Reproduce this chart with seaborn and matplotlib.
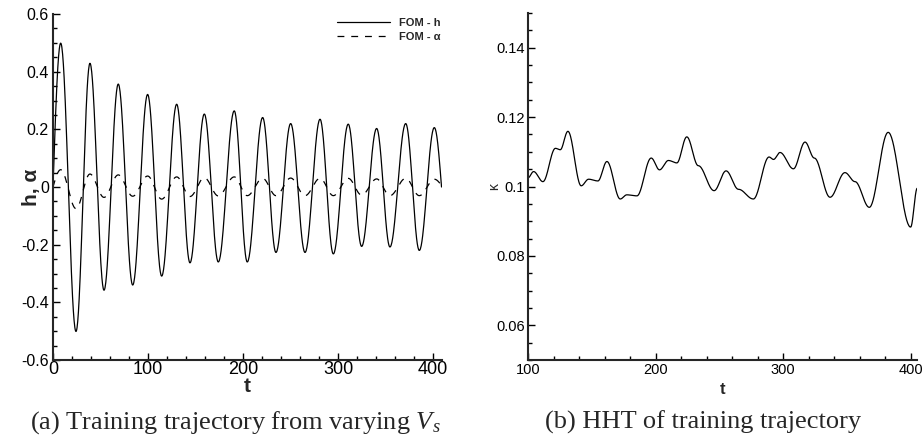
import numpy as np
import pandas as pd
import matplotlib
matplotlib.use("Agg")
import matplotlib.pyplot as plt
import seaborn as sns
from matplotlib.ticker import FixedLocator, MultipleLocator, FixedFormatter

# ---------------- data ----------------
# extremum times of the training trajectory (t), with h and alpha values there
ext_t = [0, 8.1, 24.2, 38.9, 53.7, 68.7, 83.9, 99.6, 114.4, 130.2, 144.2, 159.3,
         174.0, 190.8, 204.5, 220.7, 234.7, 250.2, 265.3, 281.1, 295.1, 310.8,
         324.9, 340.7, 354.7, 371.3, 385.6, 401.4, 409.0]
h_vals = [0.0, 0.499, -0.501, 0.429, -0.358, 0.357, -0.340, 0.321, -0.309, 0.287,
          -0.263, 0.253, -0.260, 0.264, -0.260, 0.241, -0.227, 0.220, -0.227, 0.235,
          -0.232, 0.218, -0.206, 0.203, -0.208, 0.220, -0.220, 0.206, 0.0]
alpha_vals = [0.0, 0.060, -0.075, 0.045, -0.036, 0.042, -0.032, 0.038, -0.042, 0.035,
              -0.033, 0.032, -0.031, 0.035, -0.030, 0.030, -0.030, 0.031, -0.030, 0.030,
              -0.030, 0.030, -0.028, 0.028, -0.030, 0.030, -0.030, 0.027, 0.005]

# HHT instantaneous frequency (kappa) key points
kappa_t = [100.0, 104.4, 111.7, 121.5, 125.3, 131.3, 141.7, 147.5, 154.8, 161.9,
           172.3, 177.5, 185.4, 196.6, 203.1, 210.1, 216.7, 224.5, 233.5, 245.9,
           255.3, 265.0, 276.7, 289.0, 292.5, 297.6, 308.1, 317.2, 324.5, 336.8,
           348.5, 356.4, 367.6, 382.4, 400.0, 405.2]
kappa_vals = [0.1025, 0.1043, 0.1014, 0.1110, 0.1106, 0.1159, 0.1002, 0.1021, 0.1016, 0.1072,
              0.0964, 0.0976, 0.0973, 0.1082, 0.1048, 0.1075, 0.1068, 0.1143, 0.1060, 0.0988,
              0.1045, 0.0992, 0.0964, 0.1085, 0.1078, 0.1098, 0.1051, 0.1128, 0.1082, 0.0969,
              0.1040, 0.1014, 0.0940, 0.1156, 0.0883, 0.0995]

left_xticks = [0, 100, 200, 300, 400]
left_yticks = [-0.6, -0.4, -0.2, 0.0, 0.2, 0.4, 0.6]
left_yticklabels = ['-0.6', '-0.4', '-0.2', '0', '0.2', '0.4', '0.6']
right_xticks = [100, 200, 300, 400]
right_yticks = [0.06, 0.08, 0.10, 0.12, 0.14]
right_yticklabels = ['0.06', '0.08', '0.1', '0.12', '0.14']

legend_labels = ['FOM - h', 'FOM - α']
caption_a = r'(a) Training trajectory from varying $V_s$'
caption_b = '(b) HHT of training trajectory'


def smooth_path(tk, vk, start_mid=False, end_mid=False, n=40):
    """Draw smooth half-wave segments between consecutive read key points."""
    ts, vs = [], []
    last = len(tk) - 2
    for i in range(len(tk) - 1):
        s = np.linspace(0, 1, n, endpoint=False)
        if i == 0 and start_mid:
            w = np.sin(np.pi * s / 2)
        elif i == last and end_mid:
            w = 1 - np.cos(np.pi * s / 2)
        else:
            w = (1 - np.cos(np.pi * s)) / 2
        ts.append(tk[i] + (tk[i + 1] - tk[i]) * s)
        vs.append(vk[i] + (vk[i + 1] - vk[i]) * w)
    ts.append([tk[-1]])
    vs.append([vk[-1]])
    return np.concatenate(ts), np.concatenate(vs)


th, hv = smooth_path(ext_t, h_vals, start_mid=True, end_mid=True)
ta, av = smooth_path(ext_t, alpha_vals, start_mid=True, end_mid=True)
tk, kv = smooth_path(kappa_t, kappa_vals)
df_h = pd.DataFrame({'t': th, 'v': hv})
df_a = pd.DataFrame({'t': ta, 'v': av})
df_k = pd.DataFrame({'t': tk, 'v': kv})

# ---------------- style ----------------
sns.set_style('ticks')
plt.rcParams['font.family'] = ['Liberation Sans', 'DejaVu Sans']
plt.rcParams['axes.unicode_minus'] = False
plt.rcParams['mathtext.fontset'] = 'custom'
plt.rcParams['mathtext.rm'] = 'Liberation Serif'
plt.rcParams['mathtext.it'] = 'Liberation Serif:italic'

W, H = 924, 441
fig = plt.figure(figsize=(W / 100, H / 100), dpi=100)
axL = fig.add_axes([53 / W, 1 - 360 / H, (442 - 53) / W, (360 - 14) / H])
axR = fig.add_axes([528 / W, 1 - 360 / H, (917 - 528) / W, (360 - 13) / H])

# left panel
sns.lineplot(data=df_h, x='t', y='v', ax=axL, color='black', lw=0.9,
             estimator=None, sort=False, label=legend_labels[0])
sns.lineplot(data=df_a, x='t', y='v', ax=axL, color='black', lw=0.9,
             estimator=None, sort=False, label=legend_labels[1],
             linestyle=(0, (5.5, 5.5)))
axL.set_xlim(0, 409.5)
axL.set_ylim(-0.6, 0.6)
axL.xaxis.set_major_locator(FixedLocator(left_xticks))
axL.xaxis.set_minor_locator(MultipleLocator(20))
axL.yaxis.set_major_locator(FixedLocator(left_yticks))
axL.yaxis.set_major_formatter(FixedFormatter(left_yticklabels))
axL.yaxis.set_minor_locator(MultipleLocator(0.05))
axL.set_xlabel('t', fontsize=15, fontweight='bold')
axL.xaxis.set_label_coords(0.5, -(377 - 360) / 346)
axL.xaxis.label.set_va('top')
axL.set_ylabel('h, α', fontsize=15, fontweight='bold')
axL.yaxis.set_label_coords(-(53 - 32) / 389, 0.5)
axL.yaxis.label.set_va('center')
axL.tick_params(axis='x', labelsize=13, pad=1)
axL.tick_params(axis='y', labelsize=11.5, pad=3)

leg = axL.legend(loc='upper right', bbox_to_anchor=(441 / W, 1 - 18 / H),
                 bbox_transform=fig.transFigure, frameon=False,
                 prop={'weight': 'bold', 'size': 8}, handlelength=4.8,
                 handletextpad=0.8, labelspacing=0.35, borderpad=0, borderaxespad=0)

# right panel
sns.lineplot(data=df_k, x='t', y='v', ax=axR, color='black', lw=0.9,
             estimator=None, sort=False)
axR.set_xlim(100, 405)
axR.set_ylim(0.05, 0.15)
axR.xaxis.set_major_locator(FixedLocator(right_xticks))
axR.xaxis.set_minor_locator(MultipleLocator(20))
axR.yaxis.set_major_locator(FixedLocator(right_yticks))
axR.yaxis.set_major_formatter(FixedFormatter(right_yticklabels))
axR.yaxis.set_minor_locator(MultipleLocator(0.005))
axR.set_xlabel('t', fontsize=12, fontweight='bold')
axR.xaxis.set_label_coords(0.5, -(382 - 360) / 347)
axR.xaxis.label.set_va('top')
axR.set_ylabel('κ', fontsize=10)
axR.yaxis.set_label_coords(-(528 - 494) / 389, 0.5)
axR.yaxis.label.set_va('center')
axR.tick_params(axis='both', labelsize=10.5, pad=2)

for ax in (axL, axR):
    sns.despine(ax=ax)
    for sp in ('left', 'bottom'):
        ax.spines[sp].set_linewidth(1.5)
    ax.tick_params(which='major', direction='in', length=5, width=1, colors='black')
    ax.tick_params(which='minor', direction='in', length=3, width=1, colors='black')

fig.text(235 / W, 1 - 429 / H, caption_a, ha='center', va='baseline',
         fontsize=19, family='Liberation Serif')
fig.text(703 / W, 1 - 429 / H, caption_b, ha='center', va='baseline',
         fontsize=19, family='Liberation Serif')

fig.savefig('out.png', dpi=100)
